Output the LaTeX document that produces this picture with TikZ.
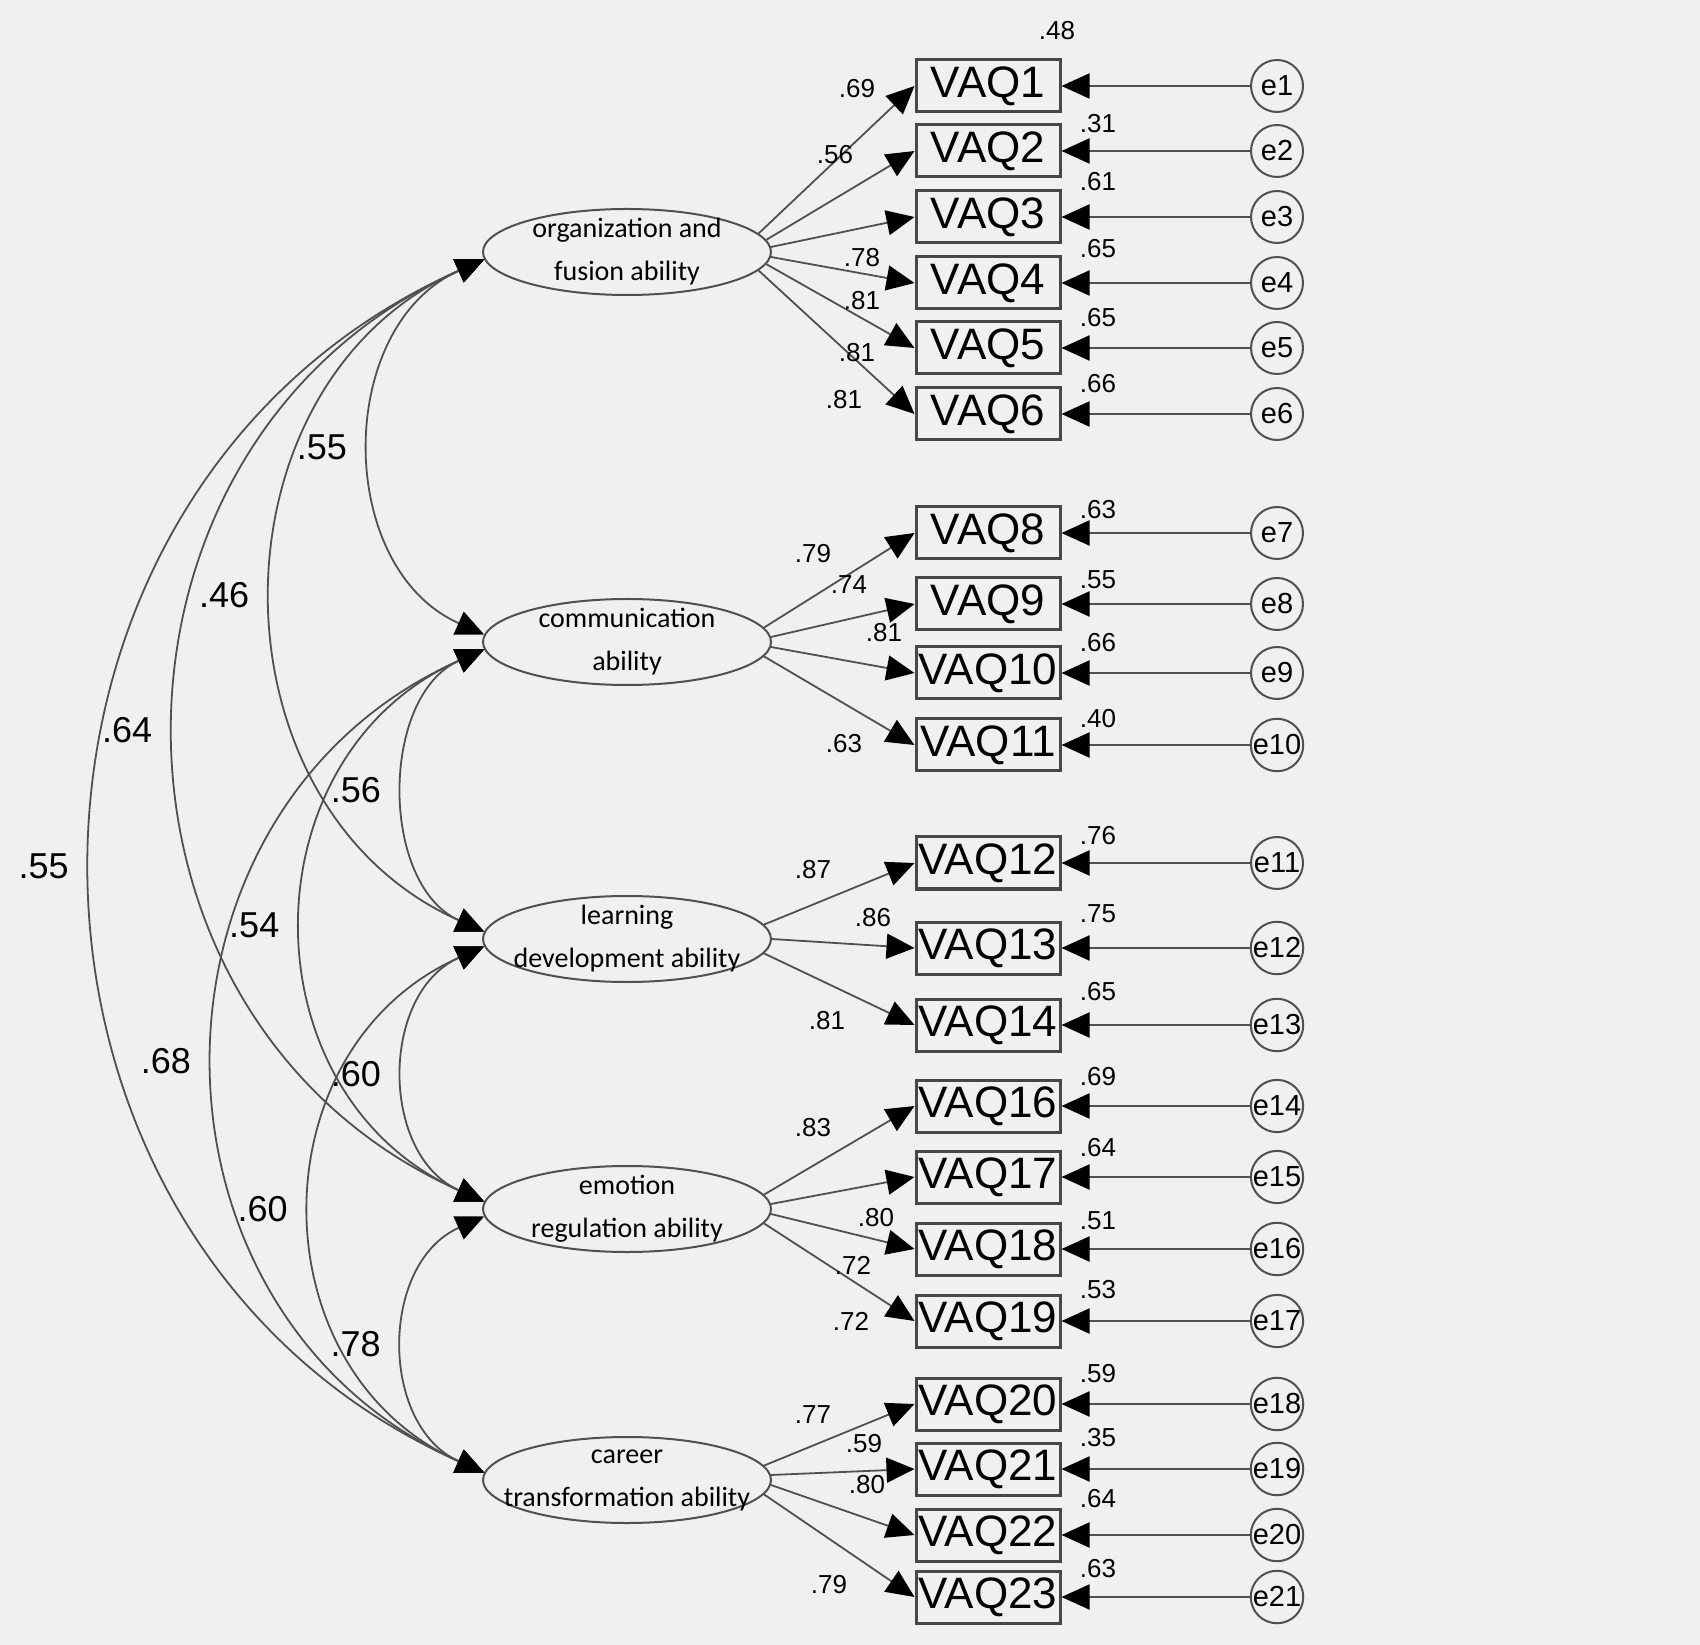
\documentclass[tikz,border=0pt]{standalone}
\usepackage{fontspec}
\setmainfont{Liberation Sans}
\newfontfamily\calib{Carlito}
\usetikzlibrary{arrows.meta,shapes.geometric}
\definecolor{bg}{HTML}{F0F0F0}
\definecolor{ln}{HTML}{505050}
\begin{document}
\begin{tikzpicture}[x=0.25pt,y=0.25pt,
  >={Triangle[length=7pt,width=6.25pt,color=black]},
  lat/.style={ellipse, draw=ln, line width=0.5pt, minimum width=72pt, minimum height=21.5pt, inner sep=0pt, fill=bg},
  lattext/.style={font=\calib\fontsize{7}{10.75}\selectfont, align=center, inner sep=0pt},
  obs/.style={rectangle, draw=black!72, line width=0.75pt, minimum width=36pt, minimum height=13pt, inner sep=0pt, fill=bg, font=\fontsize{11}{11}\selectfont},
  err/.style={circle, draw=ln, line width=0.5pt, minimum size=13pt, inner sep=0pt, fill=bg, font=\fontsize{7.25}{7.25}\selectfont},
  errarr/.style={draw=ln, line width=0.5pt, ->},
  load/.style={draw=ln, line width=0.45pt, ->},
  cov/.style={draw=ln, line width=0.45pt, <->, out=204, in=156, looseness=1.22},
  covlab/.style={pos=0.5, left=5.5pt, inner sep=0.5pt, font=\fontsize{9}{9}\selectfont},
  sm/.style={inner sep=0pt, font=\fontsize{6.5}{6.5}\selectfont}
]
\useasboundingbox (0,0) rectangle (1700,-1645);
\fill[bg] (0,0) rectangle (1700,-1645);

% latent variables
\node[lat] (L1) at (627,-252) {};
\node[lat] (L2) at (627,-642) {};
\node[lat] (L3) at (627,-939) {};
\node[lat] (L4) at (627,-1209) {};
\node[lat] (L5) at (627,-1480) {};
\node[lattext] (T1) at (L1.center) {organization and\\fusion ability};
\node[lattext] (T2) at (L2.center) {communication\\ability};
\node[lattext] (T3) at (L3.center) {learning\\development ability};
\node[lattext] (T4) at (L4.center) {emotion\\regulation ability};
\node[lattext] (T5) at (L5.center) {career\\transformation ability};

% observed variables and errors
\foreach \n/\y/\e in {1/86/1, 2/151/2, 3/217/3, 4/283/4, 5/348/5, 6/414/6,
  8/533/7, 9/604/8, 10/673/9, 11/745/10, 12/863/11, 13/948/12, 14/1025/13,
  16/1106/14, 17/1177/15, 18/1249/16, 19/1321/17, 20/1404/18, 21/1469/19,
  22/1535/20, 23/1597/21}{
  \node[obs] (V\n) at (988,-\y) {VAQ\n};
  \node[err] (E\e) at (1277,-\y) {e\e};
  \draw[errarr] (E\e) -- (V\n);
}

% loadings
\foreach \L/\a/\n in {1/8/1, 1/5/2, 1/2/3, 1/358/4, 1/355/5, 1/352/6,
  2/6/8, 2/2/9, 2/358/10, 2/354/11,
  3/6/12, 3/0/13, 3/354/14,
  4/6/16, 4/2/17, 4/358/18, 4/354/19,
  5/6/20, 5/2/21, 5/358/22, 5/354/23}{
  \draw[load] (L\L.\a) -- (V\n.west);
}

% loading labels
\foreach \i/\x/\y/\t in {1/857/89/.69, 2/835/155/.56, 3/862/258/.78, 4/862/301/.81, 5/857/353/.81, 6/844/400/.81,
  7/813/554/.79, 8/849/585/.74, 9/884/633/.81, 10/844/744/.63,
  11/813/870/.87, 12/873/918/.86, 13/827/1021/.81,
  14/813/1128/.83, 15/876/1218/.80, 16/853/1265/.72, 17/851/1321/.72,
  18/813/1415/.77, 19/864/1444/.59, 20/867/1485/.80, 21/829/1585/.79}{
  \node[sm] (LL\i) at (\x,-\y) {\t};
}

% squared multiple correlations
\foreach \i/\x/\y/\t in {1/1057/31/.48, 2/1098/124/.31, 3/1098/182/.61, 4/1098/249/.65, 5/1098/318/.65, 6/1098/384/.66,
  7/1098/510/.63, 8/1098/580/.55, 9/1098/643/.66, 10/1098/719/.40,
  11/1098/836/.76, 12/1098/914/.75, 13/1098/992/.65,
  14/1098/1077/.69, 15/1098/1148/.64, 16/1098/1221/.51, 17/1098/1290/.53,
  18/1098/1374/.59, 19/1098/1438/.35, 20/1098/1499/.64, 21/1098/1569/.63}{
  \node[sm] (R\i) at (\x,-\y) {\t};
}

% covariances
\draw[cov, looseness=1.12] (L1.183) to node[covlab] (C12) {.55} (L2.177);
\draw[cov, looseness=1.17] (L1.183) to node[covlab] (C13) {.46} (L3.177);
\draw[cov] (L1.183) to node[covlab] (C14) {.64} (L4.177);
\draw[cov, looseness=1.205] (L1.183) to node[covlab] (C15) {.55} (L5.177);
\draw[cov, looseness=1.04] (L2.183) to node[covlab] (C23) {.56} (L3.177);
\draw[cov] (L2.183) to node[covlab] (C24) {.54} (L4.177);
\draw[cov] (L2.183) to node[covlab] (C25) {.68} (L5.177);
\draw[cov, looseness=1.15] (L3.183) to node[covlab] (C34) {.60} (L4.177);
\draw[cov] (L3.183) to node[covlab] (C35) {.60} (L5.177);
\draw[cov, looseness=1.15] (L4.183) to node[covlab] (C45) {.78} (L5.177);
\end{tikzpicture}
\end{document}
